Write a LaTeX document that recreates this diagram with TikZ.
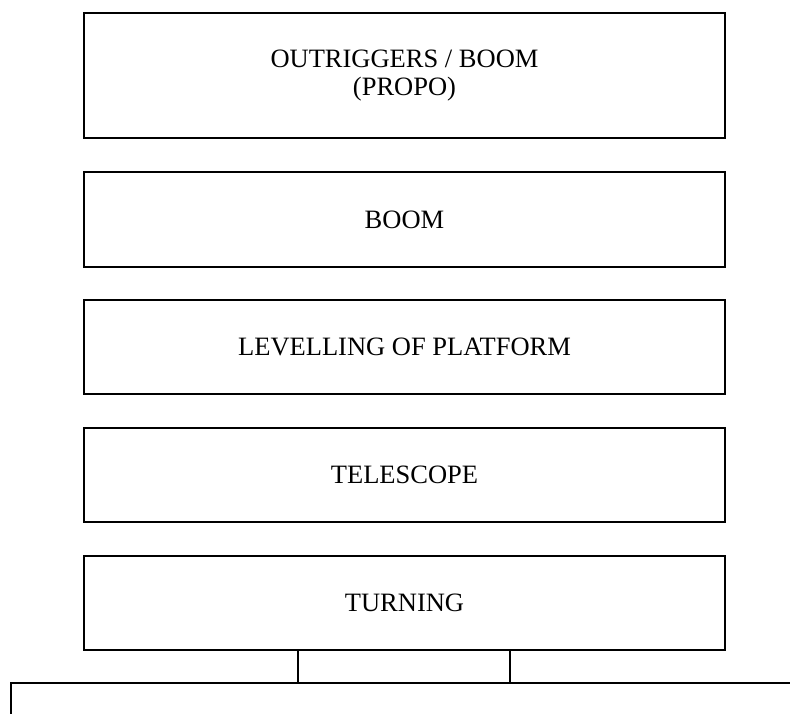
\documentclass[tikz,border=0pt]{standalone}
\usepackage{fontspec}
\setmainfont{Liberation Serif}
\begin{document}
\begin{tikzpicture}[x=1pt,y=-1pt,
  box/.style={draw,line width=2pt,minimum width=641pt,inner sep=0pt,align=center,
    font=\fontsize{26.5}{28}\selectfont},
  link/.style={line width=2pt}]
\useasboundingbox (0,0) rectangle (790,713);
\node[box,minimum height=125pt] (b1) at (404.5,75.5) {OUTRIGGERS / BOOM\\(PROPO)};
\node[box,minimum height=95pt] (b2) at (404.5,219.5) {BOOM};
\node[box,minimum height=94pt] (b3) at (404.5,347) {LEVELLING OF PLATFORM};
\node[box,minimum height=94pt] (b4) at (404.5,475) {TELESCOPE};
\node[box,minimum height=94pt] (b5) at (404.5,603) {TURNING};
\coordinate (h1) at (298,683);
\coordinate (h2) at (510,683);
\coordinate (hl) at (11,683);
\coordinate (hr) at (791,683);
\coordinate (hd) at (11,714);
\draw[link] (b5.south -| h1) -- (h1);
\draw[link] (b5.south -| h2) -- (h2);
\draw[link] (hd) -- (hl) -- (hr);
\end{tikzpicture}
\end{document}
